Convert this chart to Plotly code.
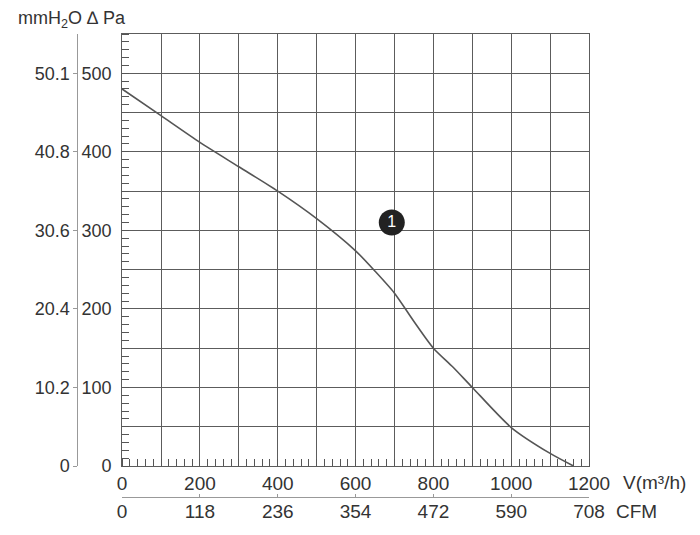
import plotly.graph_objects as go

# fan curve: airflow (m3/h) vs static pressure (Pa)
flow = [0, 100, 200, 300, 400, 500, 600, 650, 700, 750, 800, 850, 900, 1000, 1100, 1160]
pressure = [480, 446, 412, 381, 350, 315, 274, 248, 220, 184, 150, 126, 100, 49, 16, 0]

# the "1" badge
badge_flow = [693]
badge_pressure = [310]
badge_text = ["1"]

flow_grid = [0, 100, 200, 300, 400, 500, 600, 700, 800, 900, 1000, 1100, 1200]
flow_labels = ["0", "", "200", "", "400", "", "600", "", "800", "", "1000", "", "1200"]
cfm_ticks = [0, 200, 400, 600, 800, 1000, 1200]
cfm_labels = ["0", "118", "236", "354", "472", "590", "708"]

pa_grid = [0, 50, 100, 150, 200, 250, 300, 350, 400, 450, 500, 550]
pa_labels = ["0", "", "100", "", "200", "", "300", "", "400", "", "500", ""]
mm_ticks = [0, 100, 200, 300, 400, 500]
mm_labels = ["0", "10.2", "20.4", "30.6", "40.8", "50.1"]

OFF = 8  # page body margin shifts the figure
W, H = 700, 535
ml, mr, mt, mb = 4, 111, 18, 20
pw, ph = W - ml - mr, H - mt - mb


# helpers: screenshot pixel -> paper fraction
def px_x(p):
    return (p - OFF - ml) / pw


def px_y(p):
    return (H - mb - (p - OFF)) / ph


font = dict(family="Liberation Sans, Arial, sans-serif", size=18, color="#333")
xfont = dict(family="Liberation Sans, Arial, sans-serif", size=19, color="#333")
gridc = "#5c5c5c"

fig = go.Figure()
fig.add_trace(go.Scatter(x=flow, y=pressure, mode="lines",
                         line=dict(color="#555", width=1.6, shape="spline", smoothing=0.7),
                         hoverinfo="skip", showlegend=False))
fig.add_trace(go.Scatter(x=badge_flow, y=badge_pressure, mode="markers+text", text=badge_text,
                         textposition="middle center", xaxis="x2", yaxis="y2",
                         marker=dict(size=26, color="#222"),
                         textfont=dict(family="Liberation Sans, Arial", size=16, color="white"),
                         hoverinfo="skip", showlegend=False))

fig.update_layout(
    width=W, height=H,
    margin=dict(l=ml, r=mr, t=mt, b=mb),
    paper_bgcolor="white", plot_bgcolor="white",
    font=font,
    xaxis=dict(domain=[px_x(118), px_x(589)], range=[0, 1200], tickmode="array",
               tickvals=flow_grid, ticktext=flow_labels, showgrid=True, gridcolor=gridc,
               gridwidth=1, showline=True, linecolor=gridc, linewidth=1, mirror=True,
               zeroline=False, ticks="", ticklabelstandoff=0, tickfont=xfont,
               minor=dict(tick0=0, dtick=20, ticks="inside", ticklen=7, tickcolor="#555",
                          showgrid=False)),
    yaxis=dict(domain=[px_y(466), px_y(34)], range=[0, 550], tickmode="array",
               tickvals=pa_grid, ticktext=pa_labels, showgrid=True, gridcolor=gridc,
               gridwidth=1, showline=True, linecolor=gridc, linewidth=1, mirror=True,
               zeroline=False, ticks="", ticklabelstandoff=6,
               minor=dict(tick0=0, dtick=10, ticks="inside", ticklen=7, tickcolor="#555",
                          showgrid=False)),
    xaxis2=dict(overlaying="x", anchor="free", position=px_y(497), side="bottom",
                range=[0, 1200], tickmode="array", tickvals=cfm_ticks, ticktext=cfm_labels,
                showgrid=False, zeroline=False, showline=True, linecolor="#999",
                linewidth=1, ticks="inside", ticklen=3, tickcolor="#999", tickfont=xfont,
                ticklabelstandoff=-3),
    yaxis2=dict(overlaying="y", anchor="free", position=px_x(73), side="left",
                range=[0, 550], tickmode="array", tickvals=mm_ticks, ticktext=mm_labels,
                showgrid=False, zeroline=False, showline=True, linecolor="#999",
                linewidth=1, ticks="outside", ticklen=4, tickcolor="#999"),
    annotations=[
        dict(text="mmH<sub>2</sub>O ∆ Pa", x=px_x(11), y=px_y(19), xref="paper", yref="paper",
             xanchor="left", yanchor="middle", showarrow=False, font=font),
        dict(text="V(m³/h)", x=px_x(621), y=px_y(482), xref="paper", yref="paper",
             xanchor="left", yanchor="middle", showarrow=False, font=xfont),
        dict(text="CFM", x=px_x(614), y=px_y(511), xref="paper", yref="paper",
             xanchor="left", yanchor="middle", showarrow=False, font=xfont),
    ],
)

fig.write_html("out.html")
